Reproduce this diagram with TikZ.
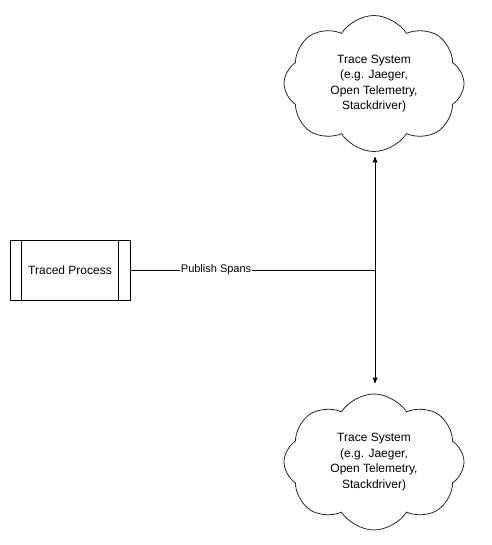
\documentclass[tikz,border=0pt]{standalone}
\usepackage{fontspec}
\setmainfont{Liberation Sans}
\usetikzlibrary{arrows,shapes.symbols}
\tikzset{
  procbox/.style = {draw=black, minimum width=120pt, minimum height=60pt,
    inner sep=0pt, font=\fontsize{12}{14}\selectfont},
  tracecloud/.style = {cloud, draw=black!85, cloud puffs=8, cloud puff arc=115,
    aspect=1.33, minimum width=180pt, minimum height=136pt, inner sep=0pt,
    line width=0.8pt, align=center, font=\fontsize{12}{15.5}\selectfont},
  spanlabel/.style = {fill=white, inner sep=1pt, font=\fontsize{11}{13}\selectfont}
}
\begin{document}
\begin{tikzpicture}[x=1pt,y=-1pt,>=stealth',line width=1pt]
	\useasboundingbox (0,0) rectangle (491,545);
	\node [procbox] (proc) at (70,270) {Traced Process};
	\draw ([xshift=12pt]proc.north west) -- ([xshift=12pt]proc.south west);
	\draw ([xshift=-12pt]proc.north east) -- ([xshift=-12pt]proc.south east);
	\node [tracecloud] (sysA) at (374,83.5) {Trace System\\(e.g. Jaeger,\\Open Telemetry,\\Stackdriver)};
	\node [tracecloud] (sysB) at (374,462) {Trace System\\(e.g. Jaeger,\\Open Telemetry,\\Stackdriver)};
	\coordinate (split) at (375,270);
	\coordinate (tipA) at (375,157);
	\coordinate (tipB) at (375,383);
	\draw (proc.east) -- node [spanlabel, pos=0.35] {Publish Spans} (split);
	\draw [->] (split) -- (tipA);
	\draw [->] (split) -- (tipB);
\end{tikzpicture}
\end{document}
